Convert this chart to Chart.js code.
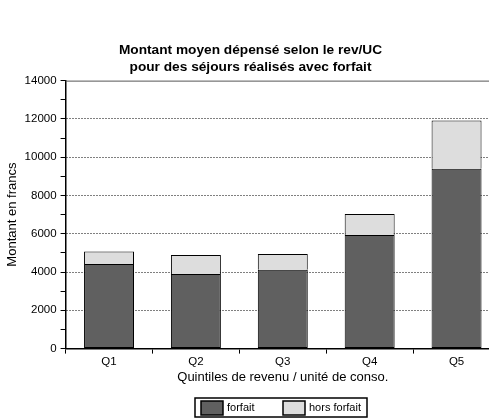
<!DOCTYPE html>
<html>
<head>
<meta charset="utf-8">
<script src="https://cdn.jsdelivr.net/npm/chart.js@4"></script>
<style>
  html, body { margin: 0; padding: 0; background: #fff; overflow: hidden; }
  #wrap { width: 500px; height: 418px; }
</style>
</head>
<body>
<div id="wrap"><canvas id="c" width="500" height="418"></canvas></div>
<script>
const categories = ['Q1', 'Q2', 'Q3', 'Q4', 'Q5'];
const forfait = [4420, 3900, 4120, 5930, 9400];
const horsForfait = [650, 990, 820, 1100, 2520];
const yTicks = [0, 2000, 4000, 6000, 8000, 10000, 12000, 14000];

const FONT = "'Liberation Sans', Arial, sans-serif";

// legend drawn by hand, centred under the plot, inside a frame
const boxLegend = {
  id: 'boxLegend',
  afterDraw(chart) {
    const ctx = chart.ctx;
    const area = chart.chartArea;
    const items = chart.data.datasets;
    const x0 = 195, y0 = 398, w = 172, h = 19;
    ctx.save();
    ctx.strokeStyle = '#000';
    ctx.lineWidth = 1.5;
    ctx.strokeRect(x0, y0, w, h);
    ctx.font = '11px ' + FONT;
    ctx.textBaseline = 'middle';
    let x = x0 + 6;
    items.forEach((ds, i) => {
      ctx.fillStyle = ds.backgroundColor;
      ctx.fillRect(x, y0 + 3, 22, 14);
      ctx.lineWidth = 1.5;
      ctx.strokeRect(x, y0 + 3, 22, 14);
      ctx.fillStyle = '#000';
      ctx.fillText(ds.label, x + 26, y0 + 10);
      x += 82;
    });
    // top frame line of the plot
    ctx.strokeStyle = '#555';
    ctx.lineWidth = 1;
    ctx.beginPath();
    ctx.moveTo(area.left, area.top + 0.5);
    ctx.lineTo(area.right, area.top + 0.5);
    ctx.stroke();
    ctx.restore();
  }
};

new Chart(document.getElementById('c'), {
  type: 'bar',
  data: {
    labels: categories,
    datasets: [{
      label: 'forfait',
      data: forfait,
      backgroundColor: '#606060',
      borderColor: '#000',
      borderWidth: 1,
      borderSkipped: false,
      barPercentage: 0.575,
      categoryPercentage: 1
    }, {
      label: 'hors forfait',
      data: horsForfait,
      backgroundColor: '#dddddd',
      borderColor: '#000',
      borderWidth: 1,
      borderSkipped: 'start',
      barPercentage: 0.575,
      categoryPercentage: 1
    }]
  },
  options: {
    responsive: false,
    animation: false,
    layout: { padding: { left: 1, right: 0, bottom: 29 } },
    plugins: {
      legend: { display: false },
      tooltip: { enabled: false },
      title: {
        display: true,
        text: ['Montant moyen dépensé selon le rev/UC', 'pour des séjours réalisés avec forfait'],
        color: '#000',
        font: { family: FONT, size: 13.7, weight: 'bold', lineHeight: 1.3 },
        padding: { top: 41, bottom: 4 }
      }
    },
    scales: {
      x: {
        stacked: true,
        grid: { offset: true, drawOnChartArea: false, tickLength: 5, color: '#000', lineWidth: 1 },
        border: { color: '#000', width: 1.5 },
        ticks: { color: '#000', font: { family: FONT, size: 11.5 }, padding: 1 },
        title: { display: true, text: 'Quintiles de revenu / unité de conso.', color: '#000',
                 font: { family: FONT, size: 13 }, padding: { top: 0 } }
      },
      y: {
        stacked: true,
        min: 0,
        max: 14000,
        ticks: {
          stepSize: 1000,
          autoSkip: false,
          color: '#000',
          font: { family: FONT, size: 11.5 },
          padding: 4,
          callback: v => yTicks.includes(v) ? String(v) : ''
        },
        grid: {
          tickLength: 5,
          tickColor: '#000',
          color: c => (c.tick && c.tick.value % 2000 === 0 && c.tick.value > 0 && c.tick.value < 14000) ? '#000' : 'rgba(0,0,0,0)',
          lineWidth: 1
        },
        border: { color: '#000', width: 1.5, dash: [1, 2] },
        title: { display: true, text: 'Montant en francs', color: '#000',
                 font: { family: FONT, size: 13 }, padding: { bottom: 0 } }
      }
    }
  },
  plugins: [boxLegend]
});
</script>
</body>
</html>
